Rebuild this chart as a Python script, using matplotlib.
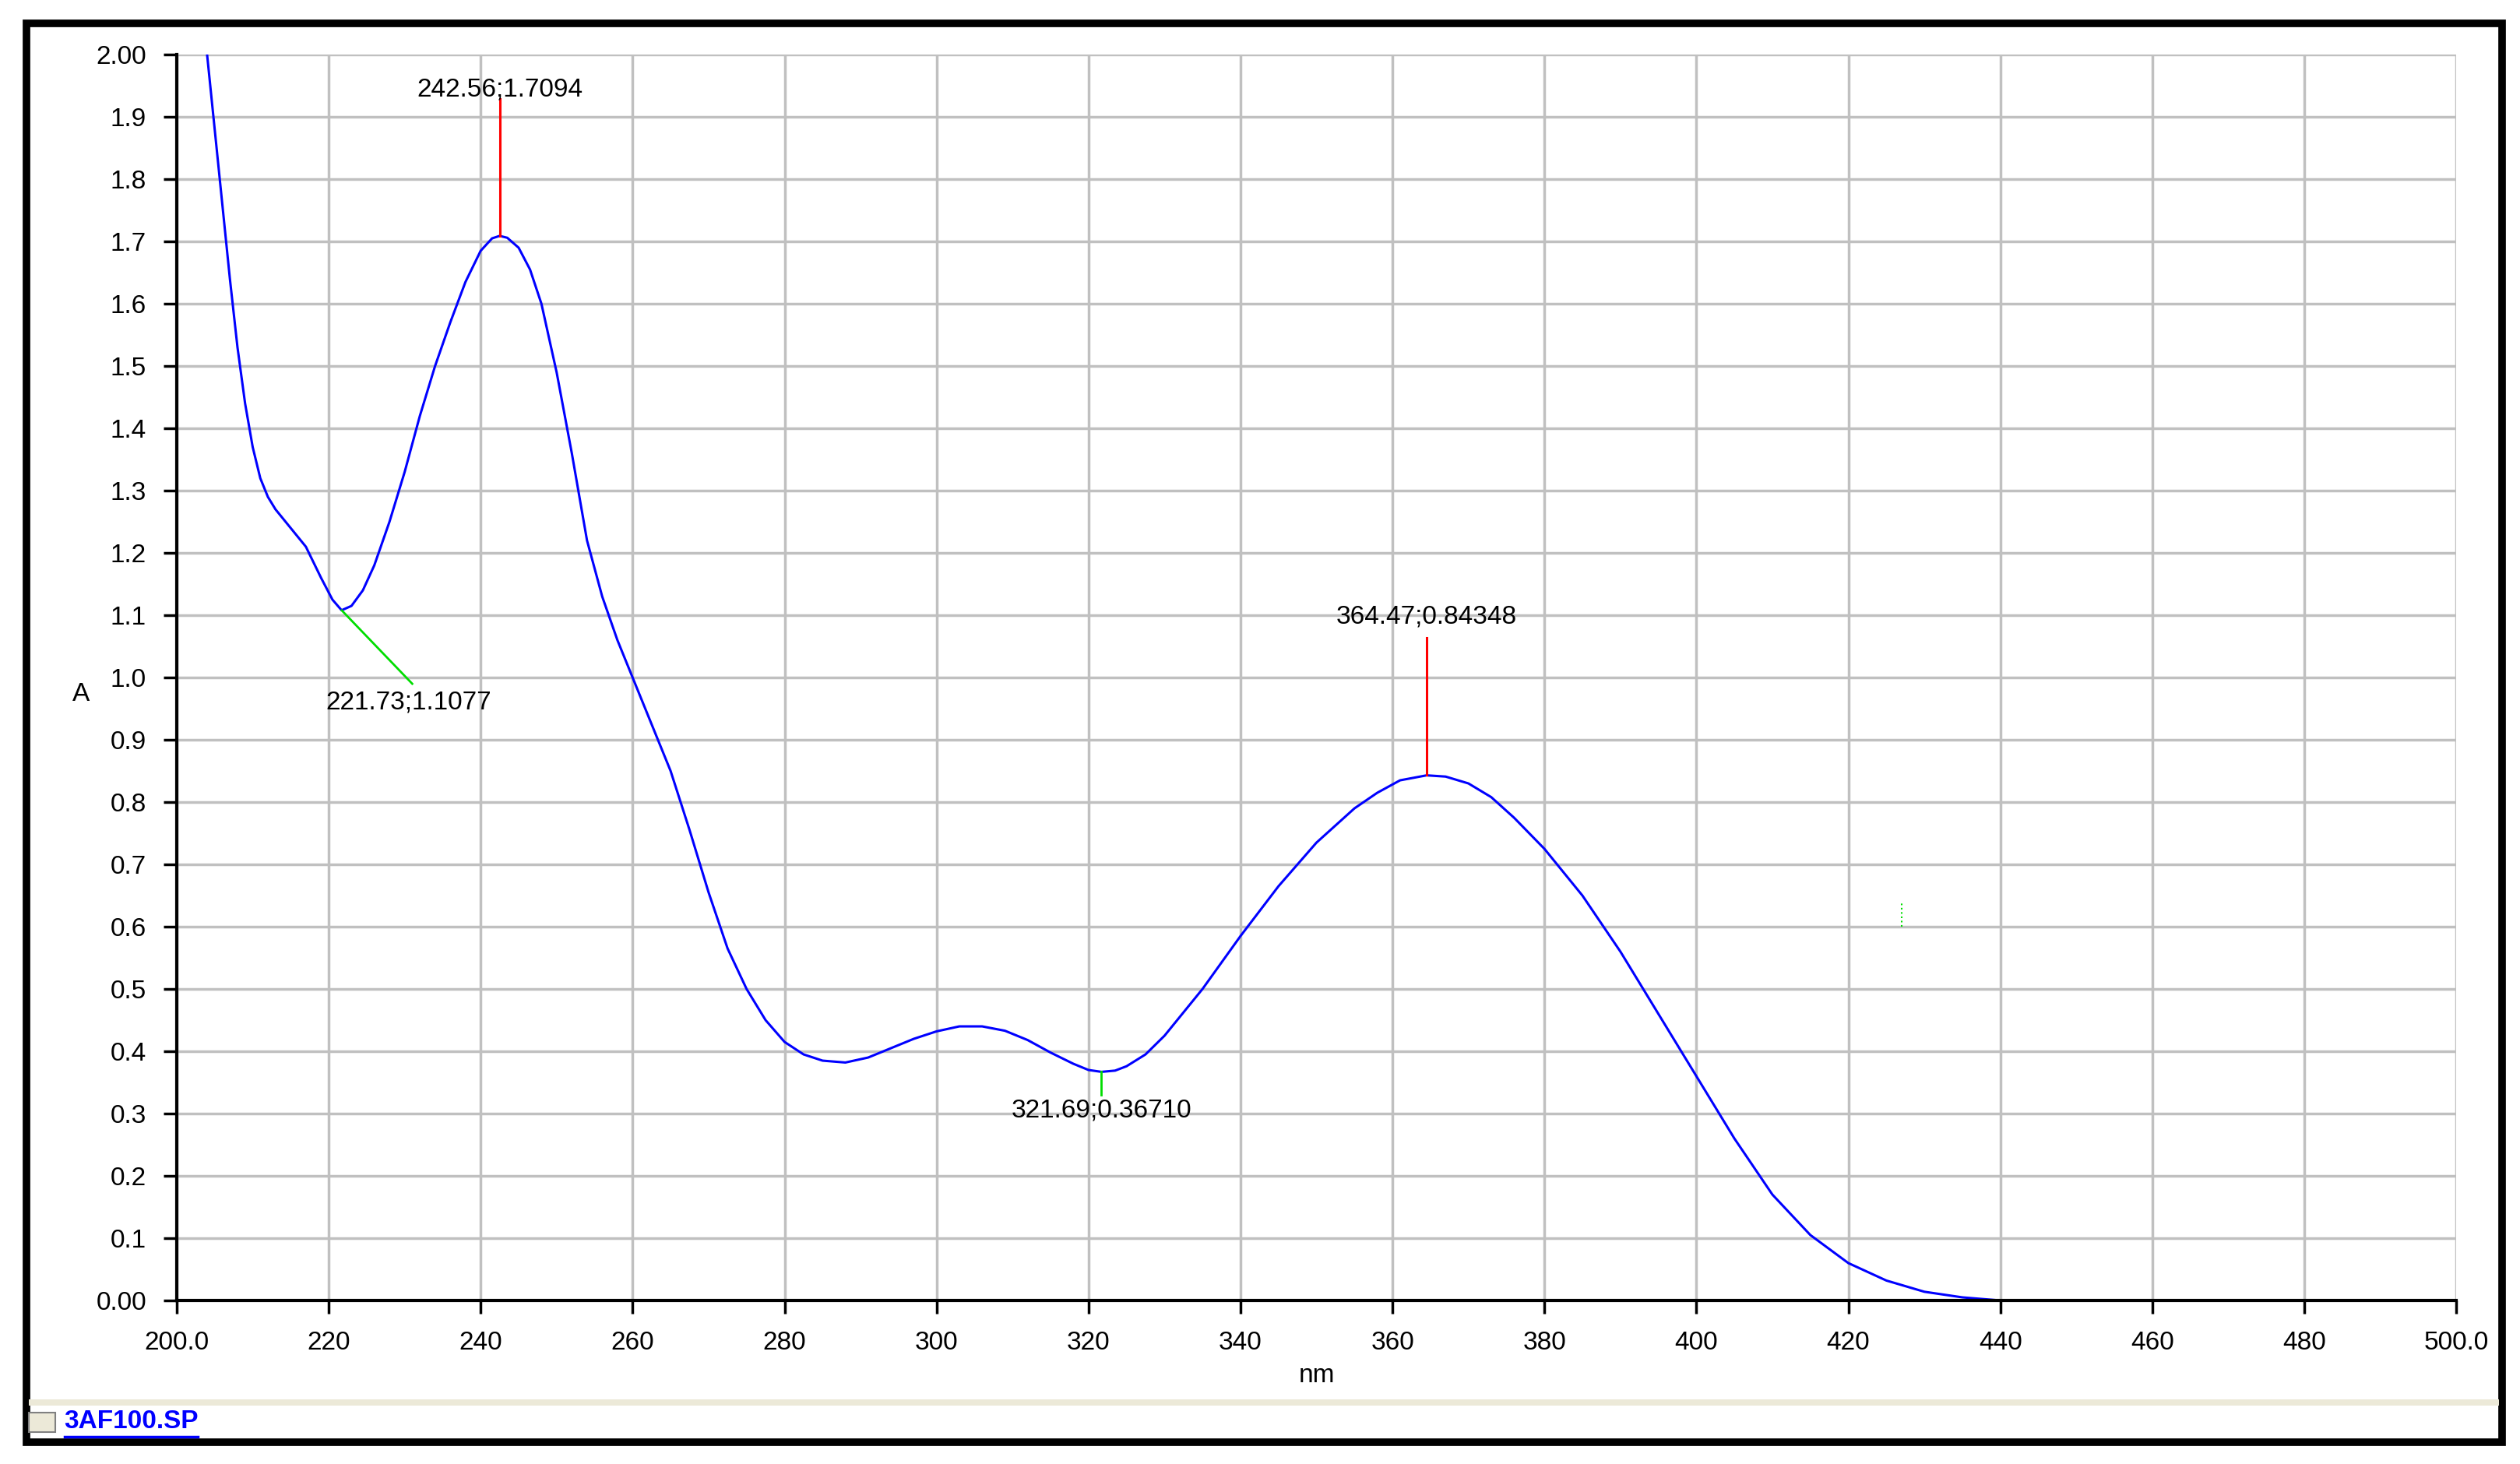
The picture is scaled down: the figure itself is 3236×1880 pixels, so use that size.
import numpy as np
import matplotlib.pyplot as plt
from matplotlib.patches import Rectangle

plt.rcParams['font.family'] = ['Liberation Sans Narrow', 'Liberation Sans', 'DejaVu Sans']

# spectrum
wl = [204, 205, 206, 207, 208, 209, 210, 211, 212, 213, 215, 217, 219, 220.5, 221.7, 223, 224.5,
      226, 228, 230, 232, 234, 236, 238, 240, 241.5, 242.5, 243.5, 245, 246.5, 248, 250, 252,
      254, 256, 258, 260, 262.5, 265, 267.5, 270, 272.5, 275, 277.5, 280, 282.5, 285, 288, 291,
      294, 297, 300, 303, 306, 309, 312, 315, 318, 320, 321.7, 323.5, 325, 327.5, 330, 335, 340,
      345, 350, 355, 358, 361, 364.5, 367, 370, 373, 376, 380, 385, 390, 395, 400, 405, 410,
      415, 420, 425, 430, 435, 440]
absb = [2.0, 1.88, 1.76, 1.64, 1.53, 1.44, 1.37, 1.32, 1.29, 1.27, 1.24, 1.21, 1.16, 1.125, 1.108,
        1.115, 1.14, 1.18, 1.25, 1.33, 1.42, 1.50, 1.57, 1.635, 1.685, 1.705, 1.709, 1.706, 1.69,
        1.655, 1.60, 1.49, 1.36, 1.22, 1.13, 1.06, 1.00, 0.925, 0.85, 0.755, 0.655, 0.565, 0.50,
        0.45, 0.415, 0.395, 0.385, 0.382, 0.39, 0.405, 0.42, 0.432, 0.44, 0.44, 0.433, 0.418,
        0.398, 0.38, 0.37, 0.367, 0.369, 0.376, 0.395, 0.425, 0.50, 0.585, 0.665, 0.735, 0.79,
        0.815, 0.835, 0.843, 0.841, 0.83, 0.808, 0.775, 0.725, 0.65, 0.56, 0.46, 0.36, 0.26,
        0.17, 0.105, 0.06, 0.032, 0.014, 0.005, 0.0]

peaks = [(242.56, 1.7094), (364.47, 0.84348)]
valleys = [(221.73, 1.1077), (321.69, 0.36710)]

yticks = [0.0] + [round(0.1 * i, 1) for i in range(1, 20)] + [2.0]
ylabels = ['0.00'] + ['%.1f' % (0.1 * i) for i in range(1, 20)] + ['2.00']
xticks = list(range(200, 501, 20))
xlabels = ['200.0'] + [str(v) for v in xticks[1:-1]] + ['500.0']

fs = 24
fig = plt.figure(figsize=(32.37, 18.80), dpi=100)
ax = fig.add_axes([0.0701, 0.1117, 0.9043, 0.851])
ax.plot(wl, absb, color='#0000ff', lw=2.2)

for x, y in peaks:
    ax.plot([x, x], [y, y + 0.22], color='#ff0000', lw=2.2)
    ax.text(x, y + (0.215 if y > 1 else 0.235), '%.2f;%s' % (x, ('%.4f' if y > 1 else '%.5f') % y),
            ha='center', va='bottom', fontsize=fs)
ax.plot([221.73, 231], [1.1077, 0.99], color='#00dd00', lw=2)
ax.text(230.5, 0.98, '221.73;1.1077', ha='center', va='top', fontsize=fs)
ax.plot([321.69, 321.69], [0.367, 0.33], color='#00dd00', lw=2)
ax.text(321.69, 0.325, '321.69;0.36710', ha='center', va='top', fontsize=fs)
ax.plot([427, 427], [0.60, 0.64], color='#00dd00', lw=1.5, ls=':')

ax.set_xlim(200, 500)
ax.set_ylim(0, 2)
ax.set_xticks(xticks)
ax.set_xticklabels(xlabels, fontsize=fs)
ax.set_yticks(yticks)
ax.set_yticklabels(ylabels, fontsize=fs)
ax.grid(True, color='#c0c0c0', lw=2.5)
ax.tick_params(length=12, width=2.5, pad=16)
for s in ['top', 'right']:
    ax.spines[s].set_visible(False)
for s in ['left', 'bottom']:
    ax.spines[s].set_linewidth(3)
ax.set_xlabel('nm', fontsize=fs, labelpad=8)
fig.text(0.032, 0.526, 'A', fontsize=fs, ha='center', va='center')

# window frame and status bar
fig.add_artist(Rectangle((0.0105, 0.015), 0.982, 0.969, transform=fig.transFigure,
                         fill=False, lw=7, ec='black'))
fig.add_artist(Rectangle((0.0115, 0.040), 0.98, 0.004, transform=fig.transFigure,
                         color='#ece9d8', lw=0))
fig.add_artist(Rectangle((0.0115, 0.022), 0.0105, 0.013, transform=fig.transFigure,
                         fc='#ece9d8', ec='#808080', lw=1.5))
fig.text(0.0255, 0.029, '3AF100.SP', color='#0000ff', fontsize=fs, fontweight='bold',
         ha='left', va='center')
fig.add_artist(plt.Line2D([0.0255, 0.0785], [0.0185, 0.0185], color='#0000ff', lw=2.5))

fig.savefig('out.png', dpi=100)
